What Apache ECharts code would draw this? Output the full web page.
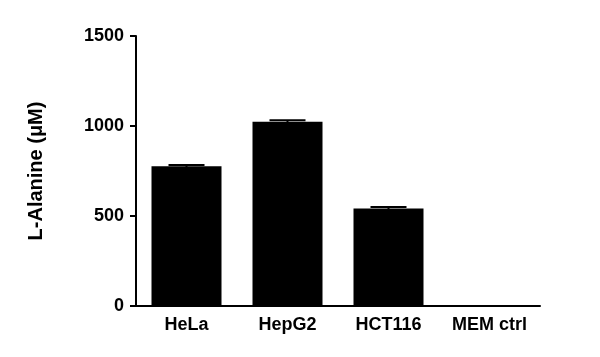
<!DOCTYPE html>
<html>
<head>
<meta charset="utf-8">
<script src="https://cdn.jsdelivr.net/npm/echarts@6/dist/echarts.min.js"></script>
<style>
  html, body { margin: 0; padding: 0; background: #fff; }
  #chart { width: 600px; height: 357px; }
</style>
</head>
<body>
<div id="chart"></div>
<script>
// values
var categories = ['HeLa', 'HepG2', 'HCT116', 'MEM ctrl'];
var means = [776, 1024, 542, 0];
var errors = [8, 8, 8, 0];
var yTicks = [0, 500, 1000, 1500];

var chart = echarts.init(document.getElementById('chart'));

var errData = categories.map(function (c, i) {
    return [i, means[i] - errors[i], means[i] + errors[i]];
});

var font = 'Liberation Sans, Arial, sans-serif';

chart.setOption({
    animation: false,
    grid: { left: 136, right: 60, top: 36, bottom: 51 },
    xAxis: {
        type: 'category',
        data: categories,
        axisLine: { lineStyle: { color: '#000', width: 2 } },
        axisTick: { alignWithLabel: true, length: 6, lineStyle: { color: '#000', width: 2 } },
        axisLabel: {
            color: '#000', fontFamily: font, fontWeight: 'bold',
            fontSize: 18, margin: 10
        }
    },
    yAxis: {
        type: 'value',
        min: yTicks[0],
        max: yTicks[yTicks.length - 1],
        interval: 500,
        name: 'L-Alanine (\u03bcM)',
        nameLocation: 'middle',
        nameGap: 90,
        nameTextStyle: {
            color: '#000', fontFamily: font, fontWeight: 'bold', fontSize: 20
        },
        splitLine: { show: false },
        axisLine: { show: true, lineStyle: { color: '#000', width: 2 } },
        axisTick: { show: true, length: 6, lineStyle: { color: '#000', width: 2 } },
        axisLabel: {
            color: '#000', fontFamily: font, fontWeight: 'bold',
            fontSize: 18, margin: 12,
            formatter: function (v) { return String(v); }
        }
    },
    series: [
        {
            type: 'bar',
            data: means,
            barWidth: 70,
            itemStyle: { color: '#000' }
        },
        {
            type: 'custom',
            data: errData,
            z: 3,
            renderItem: function (params, api) {
                var x = api.value(0);
                var lo = api.coord([x, api.value(1)]);
                var hi = api.coord([x, api.value(2)]);
                var half = 18;
                var style = { stroke: '#000', lineWidth: 2 };
                return {
                    type: 'group',
                    children: [
                        { type: 'line', shape: { x1: hi[0], y1: hi[1], x2: lo[0], y2: lo[1] }, style: style },
                        { type: 'line', shape: { x1: hi[0] - half, y1: hi[1], x2: hi[0] + half, y2: hi[1] }, style: style }
                    ]
                };
            }
        }
    ]
});
</script>
</body>
</html>
